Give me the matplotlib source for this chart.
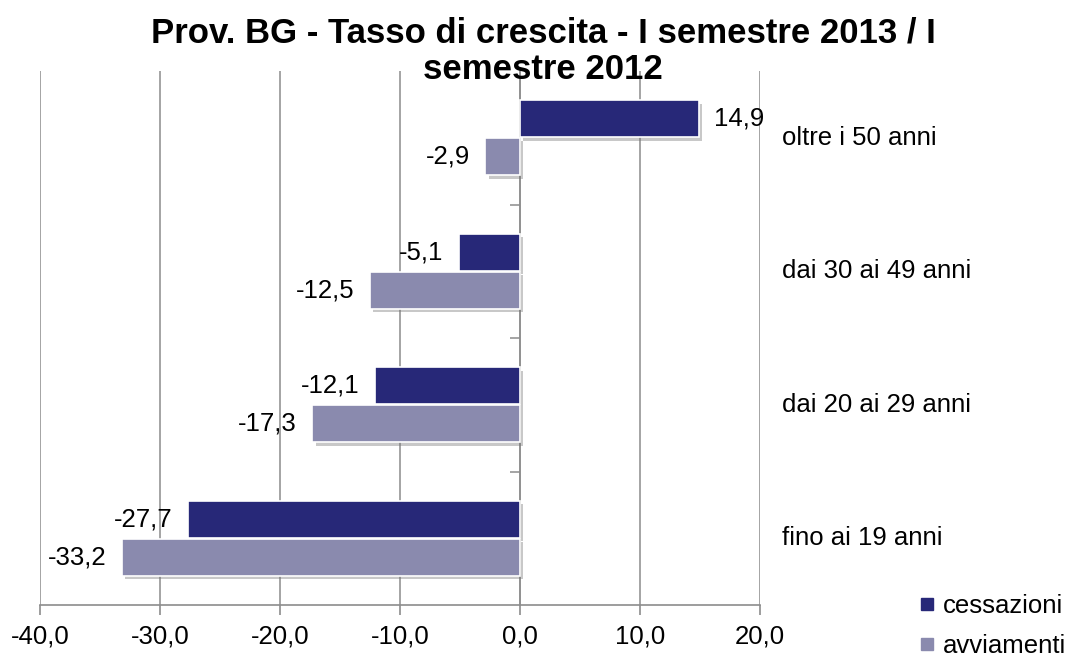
import matplotlib.pyplot as plt
import matplotlib.patheffects as pe
from matplotlib.lines import Line2D
from matplotlib.ticker import FuncFormatter
import numpy as np

plt.rcParams['font.family'] = ['Liberation Sans', 'DejaVu Sans']

# dati (dal basso verso l'alto)
categorie = ['fino ai 19 anni', 'dai 20 ai 29 anni', 'dai 30 ai 49 anni', 'oltre i 50 anni']
cessazioni = [-27.7, -12.1, -5.1, 14.9]
avviamenti = [-33.2, -17.3, -12.5, -2.9]
x_ticks = [-40, -30, -20, -10, 0, 10, 20]

col_cess = '#272878'
col_avv = '#8a8aae'
col_grid = '#8c8c8c'
fs = 18.5

fig = plt.figure(figsize=(10.69, 6.56), dpi=100)
ax = fig.add_axes([40 / 1069, 1 - 605 / 656, 720 / 1069, 534 / 656])

y = np.arange(len(categorie))
h = 0.28
ombra = [pe.SimplePatchShadow(offset=(2.5, -2.5), shadow_rgbFace='#777777', alpha=0.4), pe.Normal()]

b1 = ax.barh(y + 0.142, cessazioni, height=h, color=col_cess, edgecolor='white', linewidth=1.2,
             label='cessazioni', zorder=3)
b2 = ax.barh(y - 0.142, avviamenti, height=h, color=col_avv, edgecolor='white', linewidth=1.2,
             label='avviamenti', zorder=3)
for b in list(b1) + list(b2):
    b.set_path_effects(ombra)

fmt = lambda v: f'{v:.1f}'.replace('.', ',')
ax.bar_label(b1, labels=[fmt(v) for v in cessazioni], padding=11, fontsize=fs, zorder=4)
ax.bar_label(b2, labels=[fmt(v) for v in avviamenti], padding=11, fontsize=fs, zorder=4)

ax.set_xlim(-40, 20)
ax.set_ylim(-0.5, len(categorie) - 0.5)
ax.set_xticks(x_ticks)
ax.xaxis.set_major_formatter(FuncFormatter(lambda v, p: f'{v:.1f}'.replace('.', ',')))
ax.tick_params(axis='x', length=7, width=1.2, color=col_grid, labelsize=fs, pad=7)
ax.grid(axis='x', color=col_grid, linewidth=1.1, zorder=0)

# asse verticale sullo zero con tacche tra le categorie
ax.spines['left'].set_position(('data', 0))
ax.spines['left'].set_color(col_grid)
ax.spines['left'].set_linewidth(1.1)
ax.set_yticks(np.arange(1, len(categorie)) - 0.5)
ax.set_yticklabels([])
ax.tick_params(axis='y', length=7, width=1.1, color=col_grid)
ax.spines['bottom'].set_color(col_grid)
ax.spines['bottom'].set_linewidth(1.2)
ax.spines['top'].set_visible(False)
ax.spines['right'].set_visible(False)

trans = ax.get_yaxis_transform()
for yi, c in zip(y, categorie):
    ax.text(1.03, yi, c, transform=trans, fontsize=fs, ha='left', va='center')

fig.suptitle('Prov. BG - Tasso di crescita - I semestre 2013 / I\nsemestre 2012',
             x=0.508, y=0.975, fontsize=25, fontweight='bold', linespacing=1.12)

handles = [Line2D([], [], marker='s', linestyle='none', markersize=9, color=col_cess),
           Line2D([], [], marker='s', linestyle='none', markersize=9, color=col_avv)]
fig.legend(handles, ['cessazioni', 'avviamenti'], loc='upper left', bbox_to_anchor=(0.852, 0.11),
           frameon=False, fontsize=fs, handlelength=0.5, handletextpad=0.35, labelspacing=0.62,
           borderaxespad=0)

fig.savefig('out.png', dpi=100)
